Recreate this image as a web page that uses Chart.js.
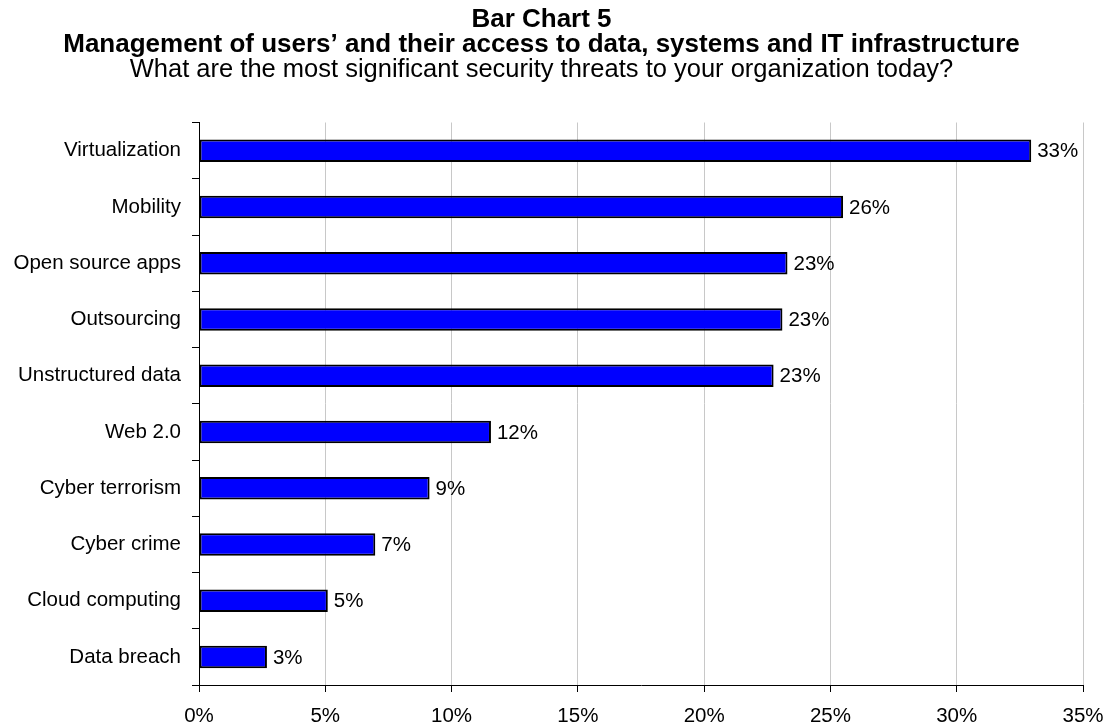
<!DOCTYPE html>
<html>
<head>
<meta charset="utf-8">
<title>Bar Chart 5</title>
<script src="https://cdn.jsdelivr.net/npm/chart.js@4.4.1/dist/chart.umd.min.js"></script>
<style>
  html, body { margin: 0; padding: 0; background: #fff; }
  #wrap { width: 1109px; height: 726px; position: relative; }
</style>
</head>
<body>
<div id="wrap"><canvas id="chart"></canvas></div>
<script>
// Survey categories, top to bottom
const categories = [
  'Virtualization',
  'Mobility',
  'Open source apps',
  'Outsourcing',
  'Unstructured data',
  'Web 2.0',
  'Cyber terrorism',
  'Cyber crime',
  'Cloud computing',
  'Data breach'
];

// Share of respondents naming each threat (%)
const shares = [32.95, 25.5, 23.3, 23.1, 22.75, 11.56, 9.13, 6.98, 5.1, 2.69];

// Value axis ticks (%)
const axisTicks = [0, 5, 10, 15, 20, 25, 30, 35];

const titleLines = [
  'Bar Chart 5',
  'Management of users\u2019 and their access to data, systems and IT infrastructure'
];
const subtitleLine = 'What are the most significant security threats to your organization today?';

const FONT = '"Liberation Sans", Arial, Helvetica, sans-serif';

// Writes the rounded percentage just past the end of each bar
const valueLabels = {
  id: 'valueLabels',
  afterDatasetsDraw(chart) {
    const ctx = chart.ctx;
    const meta = chart.getDatasetMeta(0);
    ctx.save();
    ctx.font = '20.5px ' + FONT;
    ctx.fillStyle = '#000';
    ctx.textAlign = 'left';
    ctx.textBaseline = 'middle';
    meta.data.forEach((bar, i) => {
      const v = chart.data.datasets[0].data[i];
      ctx.fillText(Math.round(v) + '%', bar.x + 6, bar.y + 1);
    });
    ctx.restore();
  }
};

new Chart(document.getElementById('chart'), {
  type: 'bar',
  data: {
    labels: categories,
    datasets: [{
      data: shares,
      backgroundColor: '#0000FF',
      borderColor: '#000000',
      borderWidth: 2,
      borderSkipped: false,
      barPercentage: 0.4,
      categoryPercentage: 1.0
    }]
  },
  options: {
    indexAxis: 'y',
    responsive: true,
    maintainAspectRatio: false,
    animation: false,
    layout: { padding: { left: 0, right: 26, top: 0, bottom: 0 } },
    plugins: {
      legend: { display: false },
      tooltip: { enabled: false },
      title: {
        display: true,
        text: titleLines,
        color: '#000',
        font: { family: FONT, size: 26, weight: 'bold', lineHeight: '25px' },
        padding: { top: 7.5, bottom: 0 }
      },
      subtitle: {
        display: true,
        text: subtitleLine,
        color: '#000',
        font: { family: FONT, size: 25.5, weight: 'normal', lineHeight: '25px' },
        padding: { top: 0, bottom: 40 }
      }
    },
    scales: {
      x: {
        type: 'linear',
        min: 0,
        max: 35,
        afterBuildTicks(scale) {
          scale.ticks = axisTicks.map(v => ({ value: v }));
        },
        afterFit(scale) {
          scale.height = 41;
          scale.paddingLeft = 0;
          scale.paddingRight = 0;
        },
        grid: {
          color: '#c8c8c8',
          lineWidth: 1,
          drawTicks: true,
          tickLength: 7,
          tickColor: '#000'
        },
        border: { display: true, color: '#000', width: 1 },
        ticks: {
          color: '#000',
          padding: 12,
          maxRotation: 0,
          font: { family: FONT, size: 20.5 },
          callback: v => v + '%'
        }
      },
      y: {
        type: 'category',
        offset: true,
        afterFit(scale) { scale.width = 199; },
        grid: {
          offset: true,
          drawOnChartArea: false,
          drawTicks: true,
          tickLength: 7,
          tickColor: '#000',
          color: '#000'
        },
        border: { display: true, color: '#000', width: 1 },
        ticks: {
          color: '#000',
          padding: 11,
          font: { family: FONT, size: 20.5 }
        }
      }
    }
  },
  plugins: [valueLabels]
});
</script>
</body>
</html>
